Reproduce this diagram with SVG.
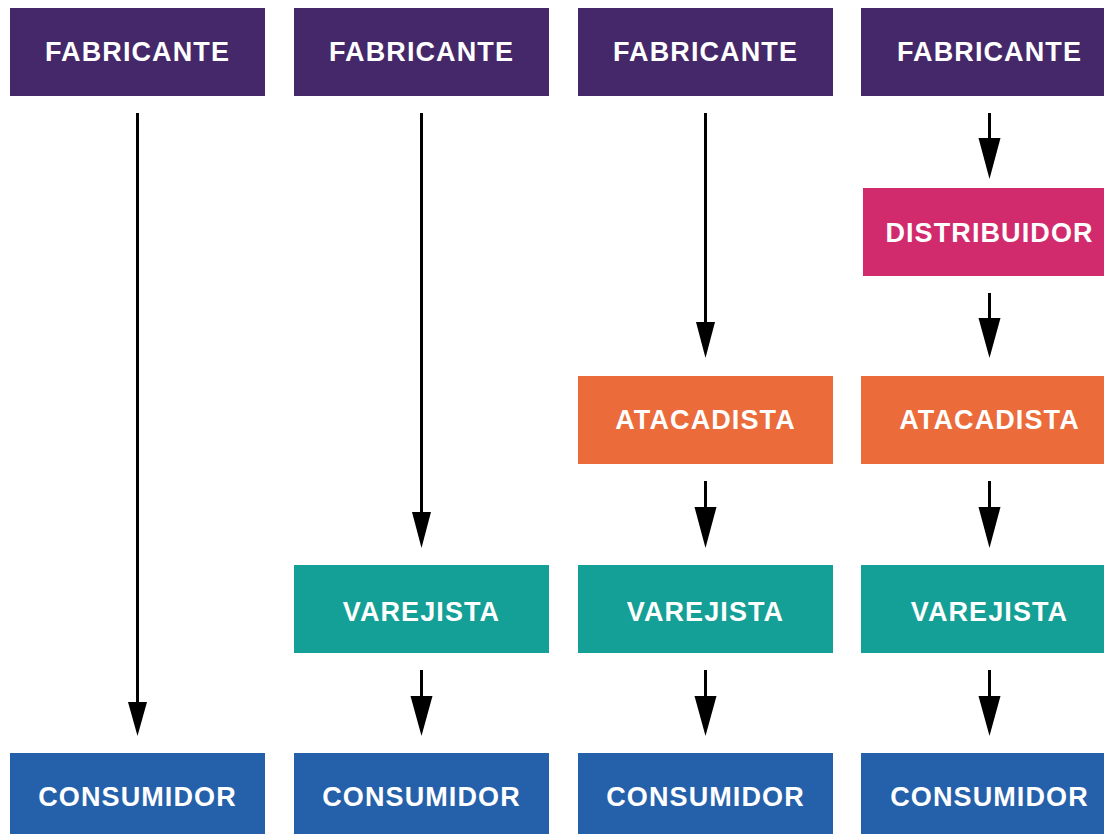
<svg xmlns="http://www.w3.org/2000/svg" width="1104" height="834" viewBox="0 0 1104 834">
<defs>
<style>
.t{font-family:"Liberation Sans",Arial,sans-serif;font-weight:bold;font-size:27px;fill:#ffffff;text-anchor:middle;letter-spacing:1.1px}
.fab{fill:#45286a}
.dis{fill:#d12b6e}
.ata{fill:#ec6b3b}
.var{fill:#14a096}
.con{fill:#2561aa}
.ln{stroke:#000;stroke-width:3;fill:none}
.hd{fill:#000}
</style>
</defs>
<rect width="1104" height="834" fill="#ffffff"/>
<g id="fab1"><rect class="fab" x="10" y="8" width="255" height="88"/><text class="t" x="137.5" y="61">FABRICANTE</text></g>
<g id="fab2"><rect class="fab" x="294" y="8" width="255" height="88"/><text class="t" x="421.5" y="61">FABRICANTE</text></g>
<g id="fab3"><rect class="fab" x="578" y="8" width="255" height="88"/><text class="t" x="705.5" y="61">FABRICANTE</text></g>
<g id="fab4"><rect class="fab" x="861" y="8" width="255" height="88"/><text class="t" x="989.5" y="61">FABRICANTE</text></g>
<g id="dis4"><rect class="dis" x="863" y="188" width="255" height="88"/><text class="t" x="989.5" y="242">DISTRIBUIDOR</text></g>
<g id="ata3"><rect class="ata" x="578" y="376" width="255" height="88"/><text class="t" x="705.5" y="429">ATACADISTA</text></g>
<g id="ata4"><rect class="ata" x="861" y="376" width="255" height="88"/><text class="t" x="989.5" y="429">ATACADISTA</text></g>
<g id="var2"><rect class="var" x="294" y="565" width="255" height="88"/><text class="t" x="421.5" y="621">VAREJISTA</text></g>
<g id="var3"><rect class="var" x="578" y="565" width="255" height="88"/><text class="t" x="705.5" y="621">VAREJISTA</text></g>
<g id="var4"><rect class="var" x="861" y="565" width="255" height="88"/><text class="t" x="989.5" y="621">VAREJISTA</text></g>
<g id="con1"><rect class="con" x="10" y="753" width="255" height="88"/><text class="t" x="137.5" y="806">CONSUMIDOR</text></g>
<g id="con2"><rect class="con" x="294" y="753" width="255" height="88"/><text class="t" x="421.5" y="806">CONSUMIDOR</text></g>
<g id="con3"><rect class="con" x="578" y="753" width="255" height="88"/><text class="t" x="705.5" y="806">CONSUMIDOR</text></g>
<g id="con4"><rect class="con" x="861" y="753" width="255" height="88"/><text class="t" x="989.5" y="806">CONSUMIDOR</text></g>
<g id="connectors">
<line class="ln" x1="137.5" y1="113" x2="137.5" y2="705"/><polygon class="hd" points="128,702 147,702 137.5,736"/>
<line class="ln" x1="421.5" y1="113" x2="421.5" y2="515"/><polygon class="hd" points="412,512 431,512 421.5,548"/>
<line class="ln" x1="421.5" y1="670" x2="421.5" y2="700"/><polygon class="hd" points="410.5,696 432.5,696 421.5,736"/>
<line class="ln" x1="705.5" y1="113" x2="705.5" y2="325"/><polygon class="hd" points="696,322 715,322 705.5,358"/>
<line class="ln" x1="705.5" y1="481" x2="705.5" y2="511"/><polygon class="hd" points="694.5,507 716.5,507 705.5,548"/>
<line class="ln" x1="705.5" y1="670" x2="705.5" y2="700"/><polygon class="hd" points="694.5,696 716.5,696 705.5,736"/>
<line class="ln" x1="989.5" y1="113" x2="989.5" y2="141"/><polygon class="hd" points="978.5,138 1000.5,138 989.5,179"/>
<line class="ln" x1="989.5" y1="293" x2="989.5" y2="322"/><polygon class="hd" points="978.5,318 1000.5,318 989.5,358"/>
<line class="ln" x1="989.5" y1="481" x2="989.5" y2="511"/><polygon class="hd" points="978.5,507 1000.5,507 989.5,548"/>
<line class="ln" x1="989.5" y1="670" x2="989.5" y2="700"/><polygon class="hd" points="978.5,696 1000.5,696 989.5,736"/>
</g>
</svg>
